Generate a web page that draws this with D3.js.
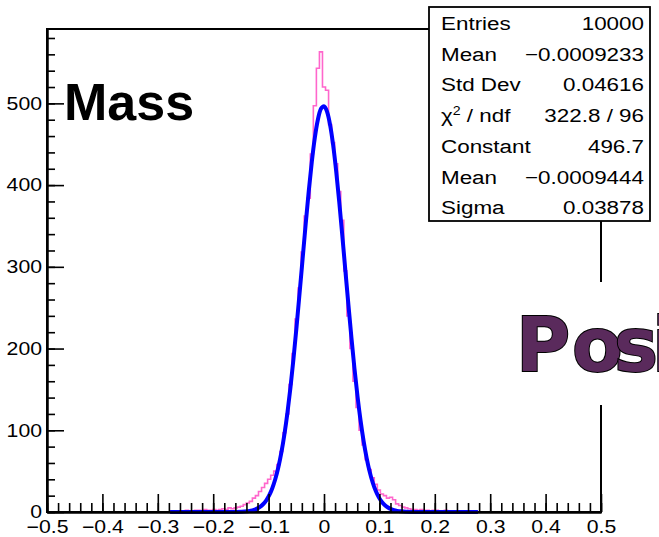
<!DOCTYPE html>
<html>
<head>
<meta charset="utf-8">
<script src="https://cdn.jsdelivr.net/npm/d3@7"></script>
<style>
  body { margin: 0; background: #fff; }
  svg { display: block; font-family: "Liberation Sans", Arial, sans-serif; }
</style>
</head>
<body>
<svg id="chart" width="659" height="537"></svg>
<script>
// histogram: 101 bins of width 0.0055, centred on k*0.0055 (k = -50..50)
const binWidth = 0.0055;
const binCounts = [
  1,1,0,1,1,2,1,1,2,2,1,3,2,2,3,2,3,4,3,5,4,5,6,7,9,11,13,
  17,20,25,30,35,40,45,50,58,74,97,120,156,194,236,274,318,362,384,438,497,543,563,
  520,516,474,452,426,392,357,295,240,200,160,128,100,82,64,52,42,34,27,22,20,17,18,15,10,8,6,5,4,
  3,3,2,3,2,2,1,2,2,1,1,2,1,1,0,1,1,0,1,1,0,1
];

// gaussian fit curve, sampled
const fitX = [-0.2778,-0.2,-0.16,-0.1375,-0.132,-0.1265,-0.121,-0.1155,-0.11,-0.1045,-0.099,-0.0935,-0.088,-0.0825,-0.077,-0.0715,-0.066,-0.0605,-0.055,-0.0495,-0.044,-0.0385,-0.033,-0.0275,-0.022,-0.0165,-0.011,-0.0055,0,0.0055,0.011,0.0165,0.022,0.0275,0.033,0.0385,0.044,0.0495,0.055,0.0605,0.066,0.0715,0.077,0.0825,0.088,0.0935,0.099,0.1045,0.11,0.1155,0.121,0.1265,0.132,0.1375,0.16,0.2,0.2778];
const fitY = [0,0,0.1,1.0,1.6,2.6,4.1,6.3,9.5,14.0,20.3,28.8,40.0,54.4,72.6,94.9,121.5,152.6,188.0,227.0,268.4,310.6,352.8,392.8,428.5,458.3,480.3,493.3,496.6,489.9,473.7,449.0,417.0,379.5,338.5,296.0,253.9,213.4,175.5,141.5,111.8,86.8,66.0,49.1,35.8,25.6,17.9,12.3,8.3,5.5,3.5,2.2,1.4,0.85,0.1,0,0];

const xTicks = [-0.5,-0.4,-0.3,-0.2,-0.1,0,0.1,0.2,0.3,0.4,0.5];
const yTicks = [0,100,200,300,400,500];

const statLabels = ["Entries", "Mean", "Std Dev", "χ2 / ndf", "Constant", "Mean", "Sigma"];
const statValues = ["10000", "−0.0009233", "0.04616", "322.8 / 96", "496.7", "−0.0009444", "0.03878"];

const svg = d3.select("#chart");
const stretch = 1.18; // the ROOT text is drawn a little wide

const x = d3.scaleLinear().domain([-0.5, 0.5]).range([47, 601]);
const y = d3.scaleLinear().domain([0, 591]).range([512, 29]);

// frame
svg.append("rect")
    .attr("x", x(-0.5)).attr("y", y(591))
    .attr("width", x(0.5) - x(-0.5)).attr("height", y(0) - y(591))
    .attr("fill", "none").attr("stroke", "#000").attr("stroke-width", 2);

svg.append("clipPath").attr("id", "frameClip")
  .append("rect")
    .attr("x", x(-0.5)).attr("y", y(591))
    .attr("width", x(0.5) - x(-0.5)).attr("height", y(0) - y(591) + 4);

// histogram outline
const half = (binCounts.length - 1) / 2;
let pts = [];
binCounts.forEach(function(c, i) {
    const centre = (i - half) * binWidth;
    pts.push([centre - binWidth / 2, c]);
    pts.push([centre + binWidth / 2, c]);
});
const histLine = d3.line()
    .x(function(d) { return x(d[0]); })
    .y(function(d) { return y(d[1]); });

svg.append("path")
    .attr("clip-path", "url(#frameClip)")
    .attr("d", histLine(pts))
    .attr("fill", "none")
    .attr("stroke", "#ff66cc")
    .attr("stroke-width", 1.6);

// fit curve
const fitLine = d3.line()
    .x(function(d, i) { return x(fitX[i]); })
    .y(function(d) { return y(d); })
    .curve(d3.curveMonotoneX);

svg.append("path")
    .attr("clip-path", "url(#frameClip)")
    .attr("d", fitLine(fitY))
    .attr("fill", "none")
    .attr("stroke", "#0000ff")
    .attr("stroke-width", 4)
    .attr("stroke-linejoin", "round");

// axes
const fmtX = function(d) { return d === 0 ? "0" : d3.format(".1f")(d); };

const xMinor = d3.range(-25, 26).map(function(i) { return i * 0.02; });
const yMinor = d3.range(0, 30).map(function(i) { return i * 20; });

const gxMinor = svg.append("g")
    .attr("transform", "translate(0," + y(0) + ")")
    .call(d3.axisBottom(x).tickValues(xMinor).tickSize(-9).tickSizeOuter(0).tickFormat(""));
const gx = svg.append("g")
    .attr("transform", "translate(0," + y(0) + ")")
    .call(d3.axisBottom(x).tickValues(xTicks).tickSize(-18).tickSizeOuter(0).tickPadding(8).tickFormat(fmtX));

const gyMinor = svg.append("g")
    .attr("transform", "translate(" + x(-0.5) + ",0)")
    .call(d3.axisLeft(y).tickValues(yMinor).tickSize(-8).tickSizeOuter(0).tickFormat(""));
const gy = svg.append("g")
    .attr("transform", "translate(" + x(-0.5) + ",0)")
    .call(d3.axisLeft(y).tickValues(yTicks).tickSize(-17).tickSizeOuter(0).tickPadding(5));

[gx, gxMinor, gy, gyMinor].forEach(function(g) {
    g.select(".domain").attr("stroke-width", 2);
    g.selectAll(".tick line").attr("stroke-width", 1.6);
    g.selectAll("text")
        .attr("font-size", 18).attr("fill", "#000")
        .attr("font-family", "Liberation Sans, Arial, sans-serif")
        .each(function() {
            const t = d3.select(this);
            const tx = +t.attr("x") || 0;
            t.attr("x", 0).attr("transform", "translate(" + tx + ",0) scale(" + stretch + ",1)");
        });
});

// stats box
const box = svg.append("g");
box.append("rect")
    .attr("x", 429).attr("y", 7).attr("width", 221).attr("height", 214)
    .attr("fill", "#fff").attr("stroke", "#000").attr("stroke-width", 1.8);

statLabels.forEach(function(lab, i) {
    const by = 30 + i * 30.7;
    const t = box.append("text")
        .attr("transform", "translate(441," + by + ") scale(" + stretch + ",1)")
        .attr("font-size", 19).attr("fill", "#000");
    if (lab.startsWith("χ2")) {
        t.append("tspan").text("χ");
        t.append("tspan").attr("font-size", 12).attr("dy", -7).text("2");
        t.append("tspan").attr("dy", 7).text(" / ndf");
    } else {
        t.text(lab);
    }
    box.append("text")
        .attr("transform", "translate(644," + by + ") scale(" + stretch + ",1)")
        .attr("text-anchor", "end")
        .attr("font-size", 19).attr("fill", "#000")
        .text(statValues[i]);
});

// "Mass" title
svg.append("text")
    .attr("x", 64).attr("y", 120)
    .attr("font-size", 52).attr("font-weight", "bold")
    .attr("fill", "#000")
    .text("Mass");

// overlapping "Posi" slide text
svg.append("rect")
    .attr("x", 508).attr("y", 282).attr("width", 151).attr("height", 123)
    .attr("fill", "#fff");
svg.append("text")
    .attr("x", "516 572 614 652")
    .attr("y", 371)
    .attr("font-family", "DejaVu Sans, sans-serif")
    .attr("font-size", 74).attr("font-weight", "bold")
    .attr("fill", "#5a2a5c")
    .attr("stroke", "#000").attr("stroke-width", 2)
    .attr("paint-order", "stroke")
    .text("Posi");
</script>
</body>
</html>
